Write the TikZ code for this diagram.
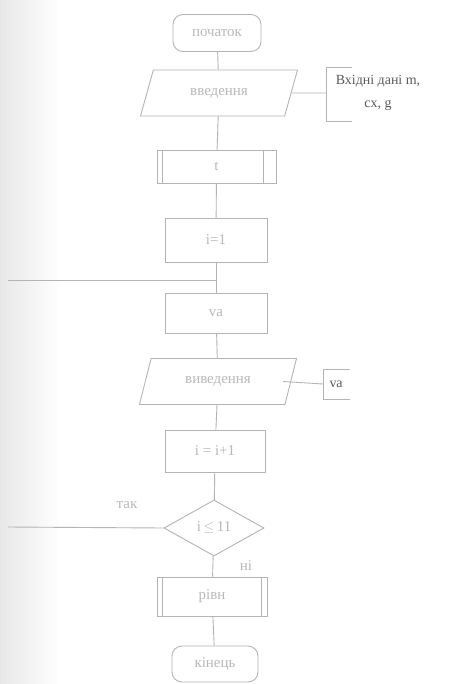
\documentclass[tikz,border=0pt]{standalone}
\usepackage{fontspec}
\setmainfont{Liberation Serif}
\usetikzlibrary{shapes.geometric}
\definecolor{ln}{HTML}{B4B4B4}
\definecolor{tx}{HTML}{B8B8B8}
\definecolor{ann}{HTML}{5A5A5A}
\begin{document}
\begin{tikzpicture}[x=1bp,y=-1bp,
  conn/.style={draw=ln,line width=0.9bp},
  boxtext/.style={text=tx,font=\fontsize{15}{17}\selectfont,inner sep=1bp},
  term/.style={draw=ln,line width=0.9bp,rounded corners=10bp,minimum width=88bp,minimum height=37bp,boxtext},
  proc/.style={draw=ln,line width=0.9bp,minimum width=102bp,minimum height=42bp,boxtext},
  io/.style={draw=ln,line width=0.9bp,trapezium,trapezium left angle=64,trapezium right angle=116,trapezium stretches=true,minimum width=158bp,minimum height=46bp,boxtext},
  dec/.style={draw=ln,line width=0.9bp,diamond,aspect=1.8,minimum width=100bp,minimum height=56bp,boxtext,inner sep=0pt},
  lbl/.style={text=tx,font=\fontsize{15}{17}\selectfont},
  anntext/.style={text=ann,font=\fontsize{14}{23}\selectfont,align=center}
]
\path[fill=white] (0,0) rectangle (466,684);
\useasboundingbox (0,0) rectangle (466,684);
\shade[left color=black!9,right color=white,draw=none] (0,0) rectangle (60,684);

\node[term] (start) at (217,33) {початок};
\node[io] (in) at (219,93) {введення};
\node[proc,minimum width=119bp,minimum height=33bp] (t) at (216.5,166.5) {t};
\draw[conn] ([xshift=6bp]t.north west) -- ([xshift=6bp]t.south west);
\draw[conn] ([xshift=-13bp]t.north east) -- ([xshift=-13bp]t.south east);
\node[proc,minimum height=44bp] (i1) at (216,240) {i=1};
\coordinate (loopin) at (216,280);
\coordinate (loopl) at (8,280);
\node[proc,minimum height=40bp] (va) at (216,313) {va};
\node[io] (out) at (218,381.5) {виведення};
\node[proc,minimum width=100bp,minimum height=42bp] (inc) at (215,451) {i = i+1};
\node[dec] (cond) at (214,528) {i$\,\leq\,$11};
\coordinate (condl) at (8,527);
\node[proc,minimum width=110bp,minimum height=39bp] (res) at (212,596.5) {рівн};
\draw[conn] ([xshift=6bp]res.north west) -- ([xshift=6bp]res.south west);
\draw[conn] ([xshift=-6bp]res.north east) -- ([xshift=-6bp]res.south east);
\node[term,minimum width=86bp,minimum height=36bp] (end) at (215,664) {кінець};

\node[lbl] (yes) at (127,505) {так};
\node[lbl] (no) at (246,566) {ні};

% annotations
\coordinate (a1m) at (326,93);
\draw[conn] (352,67) -- (326,67) -- (326,121) -- (352,121);
\node[anntext] (a1) at (378,93) {Вхідні дані m,\\cx, g};
\draw[conn] (in.east) -- (a1m);

\coordinate (a2m) at (323,384);
\draw[conn] (350,369) -- (323,369) -- (323,399) -- (350,399);
\node[anntext,anchor=west] (a2) at (326,384) {va};
\draw[conn] ([xshift=-8bp]out.east) -- (a2m);

% main flow
\draw[conn] (start) -- (in);
\draw[conn] (in) -- (t);
\draw[conn] (t) -- (i1);
\draw[conn] (i1) -- (va);
\draw[conn] (loopl) -- (loopin);
\draw[conn] (va) -- (out);
\draw[conn] (out) -- (inc);
\draw[conn] (inc) -- (cond);
\draw[conn] (cond.west) -- (condl);
\draw[conn] (cond) -- (res);
\draw[conn] (res) -- (end);
\end{tikzpicture}
\end{document}
